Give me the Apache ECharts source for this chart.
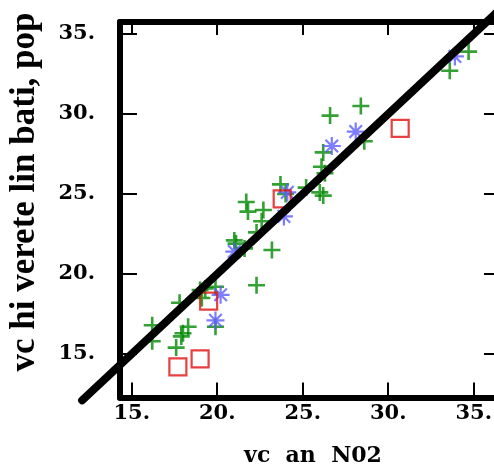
<!DOCTYPE html>
<html>
<head>
<meta charset="utf-8">
<script src="https://cdn.jsdelivr.net/npm/echarts@6/dist/echarts.min.js"></script>
<style>
  html, body { margin: 0; padding: 0; background: #fff; }
  #chart { width: 494px; height: 470px; }
</style>
</head>
<body>
<div id="chart"></div>
<script>
// ---- data ----
const xTicks = [15, 20, 25, 30, 35];
const yTicks = [15, 20, 25, 30, 35];
const xTitle = 'vc  an  N02';
const yTitle = 'vc hi verete lin bati, pop';

const greenX = [16.2, 16.2, 17.8, 17.6, 17.9, 18.0, 18.3, 19.0, 19.1, 19.3, 19.9, 19.9, 21.0, 21.1, 21.6, 21.7, 21.8, 22.3, 22.3, 22.6, 22.7, 23.2, 23.7, 24.0, 25.2, 26.0, 26.2, 26.1, 26.3, 26.2, 26.6, 28.4, 28.6, 33.6, 34.7];
const greenY = [16.8, 15.8, 18.2, 15.4, 16.1, 16.3, 16.7, 19.0, 18.5, 19.1, 16.7, 19.2, 22.1, 21.9, 21.6, 24.5, 23.9, 22.6, 19.3, 23.3, 24.0, 21.5, 25.6, 25.0, 25.4, 25.1, 24.9, 26.7, 26.3, 27.6, 29.9, 30.5, 28.3, 32.7, 33.9];

const blueX = [20.2, 19.9, 21.0, 23.9, 24.1, 26.7, 28.1, 33.9];
const blueY = [18.7, 17.1, 21.4, 23.6, 25.1, 28.0, 28.9, 33.6];

const redX = [17.7, 19.0, 19.5, 23.8, 30.7];
const redY = [14.2, 14.7, 18.3, 24.7, 29.1];

// diagonal reference line y = x (start and end)
const lineX = [12.1, 36.8];
const lineY = [12.1, 36.8];

// ---- build ----
const zip = (a, b) => a.map((v, i) => [v, b[i]]);
const FONT = 'DejaVu Serif';

const chart = echarts.init(document.getElementById('chart'), null, { renderer: 'canvas' });

const axisCommon = {
  type: 'value',
  axisLine: { show: true, onZero: false, lineStyle: { color: '#000', width: 6 } },
  splitLine: { show: false },
};

chart.setOption({
  animation: false,
  backgroundColor: '#fff',
  grid: { left: 120, top: 22, width: 378, height: 375.5, outerBoundsMode: 'none', containLabel: false },
  xAxis: [
    Object.assign({}, axisCommon, {
      position: 'bottom', min: 14.316, max: 36.42,
      axisTick: { show: true, inside: true, length: 15, customValues: xTicks, lineStyle: { color: '#000', width: 2 } },
      axisLabel: { show: true, margin: 6, customValues: xTicks, formatter: v => v + '.', color: '#000', fontFamily: FONT, fontWeight: 'bold', fontSize: 21 }
    }),
    Object.assign({}, axisCommon, {
      position: 'top', min: 14.316, max: 36.42,
      axisTick: { show: true, inside: true, length: 13, customValues: xTicks, lineStyle: { color: '#000', width: 2 } },
      axisLabel: { show: false }
    })
  ],
  yAxis: [
    Object.assign({}, axisCommon, {
      position: 'left', min: 12.28, max: 35.75,
      axisTick: { show: true, inside: true, length: 17, customValues: yTicks, lineStyle: { color: '#000', width: 2 } },
      axisLabel: { show: true, margin: 25, customValues: yTicks, formatter: v => v + '.', color: '#000', fontFamily: FONT, fontWeight: 'bold', fontSize: 21 }
    }),
    Object.assign({}, axisCommon, {
      position: 'right', min: 12.28, max: 35.75,
      axisTick: { show: true, inside: true, length: 14, customValues: yTicks, lineStyle: { color: '#000', width: 2 } },
      axisLabel: { show: false }
    })
  ],
  graphic: [
    { type: 'text', x: 313, y: 456, style: { text: xTitle, fill: '#000', font: 'bold 22px "DejaVu Serif"', align: 'center', verticalAlign: 'middle' } },
    { type: 'text', x: 25, y: 192, rotation: Math.PI / 2, style: { text: yTitle, fill: '#000', font: 'bold 35px "Liberation Serif"', align: 'center', verticalAlign: 'middle' } }
  ],
  series: [
    {
      type: 'scatter', data: zip(greenX, greenY), z: 2,
      symbol: 'path://M0,-1L0,1M-1,0L1,0', symbolSize: 17,
      itemStyle: { color: 'rgba(0,0,0,0)', borderColor: '#008a00', borderWidth: 2.6 }
    },
    {
      type: 'scatter', data: zip(blueX, blueY), z: 3,
      symbol: 'path://M0,-1L0,1M-1,0L1,0M-0.7,-0.7L0.7,0.7M-0.7,0.7L0.7,-0.7', symbolSize: 18,
      itemStyle: { color: 'rgba(0,0,0,0)', borderColor: '#5c5cff', borderWidth: 2.2 }
    },
    {
      type: 'scatter', data: zip(redX, redY), z: 3,
      symbol: 'rect', symbolSize: 17,
      itemStyle: { color: 'rgba(0,0,0,0)', borderColor: '#e01010', borderWidth: 2.2 }
    },
    {
      type: 'custom', z: 5, clip: false,
      data: [[lineX[0], lineY[0], lineX[1], lineY[1]]],
      encode: { x: [0, 2], y: [1, 3] },
      renderItem: function (params, api) {
        const p1 = api.coord([api.value(0), api.value(1)]);
        const p2 = api.coord([api.value(2), api.value(3)]);
        return {
          type: 'line',
          shape: { x1: p1[0], y1: p1[1], x2: p2[0], y2: p2[1] },
          style: { stroke: '#000', lineWidth: 8, lineCap: 'round' }
        };
      }
    }
  ]
});
</script>
</body>
</html>
